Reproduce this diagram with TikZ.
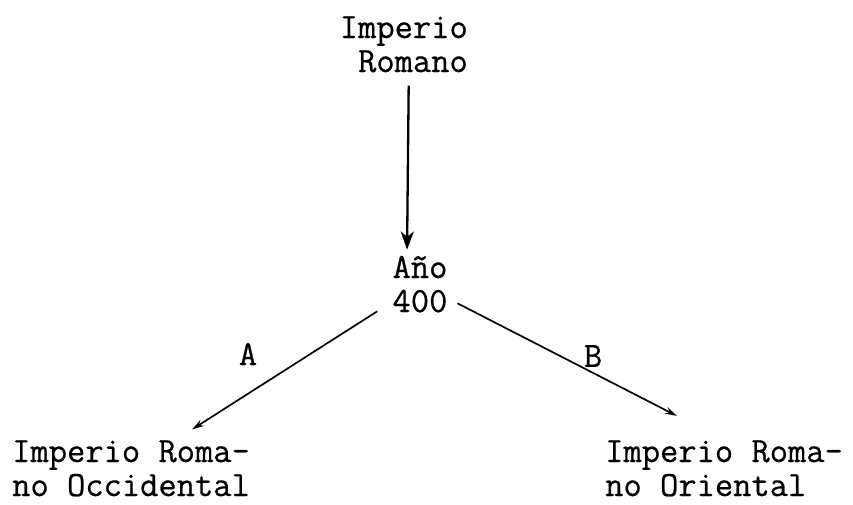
\documentclass[tikz,border=0pt]{standalone}
\usepackage{fontspec}
\newfontfamily\typewriter[FakeBold=0.6]{Latin Modern Mono}
\usetikzlibrary{arrows.meta}
\tikzset{typed/.style={font=\typewriter\fontsize{35.5}{34}\selectfont, inner sep=0pt},
    main arrow/.style={-{Stealth[length=18pt,width=13pt,inset=5pt]}, line width=2.3pt},
    branch arrow/.style={-{Stealth[length=12pt,width=7pt]}, line width=1.7pt}}

\begin{document}
\begin{tikzpicture}[x=1pt, y=-1pt]
    \useasboundingbox (0,0) rectangle (853,504);
    \node[typed, align=right, anchor=base east] (rome) at (468,72)  {Imperio\\Romano};
    \node[typed, align=center, anchor=base]     (year) at (420,312) {Año\\400};
    \node[typed, align=left, anchor=base west]  (west) at (12,496)  {Imperio Roma-\\no Occidental};
    \node[typed, align=left, anchor=base west]  (east) at (605,496) {Imperio Roma-\\no Oriental};
    \node[typed] (lblA) at (248,354) {A};
    \node[typed] (lblB) at (593,356) {B};
    % division of the empire
    \draw[main arrow, shorten <=13pt, shorten >=6pt] ([xshift=5pt]rome.south) -- ([xshift=-13pt]year.north);
    \draw[branch arrow, shorten <=18pt, shorten >=20pt] (year) -- (west);
    \draw[branch arrow, shorten <=11pt, shorten >=53pt] (year) -- (east.north);
\end{tikzpicture}
\end{document}
